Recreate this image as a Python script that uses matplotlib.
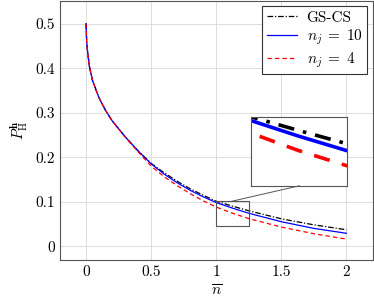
import matplotlib
matplotlib.use("Agg")
import matplotlib.pyplot as plt
from matplotlib.patches import Rectangle, ConnectionPatch

plt.rcParams['font.family'] = 'serif'
plt.rcParams['font.serif'] = ['cmr10', 'DejaVu Serif']
plt.rcParams['mathtext.fontset'] = 'cm'
plt.rcParams['axes.unicode_minus'] = False

# ---- data ----
n_bar = [0.0, 0.005, 0.01, 0.025, 0.05, 0.1, 0.15, 0.2, 0.3, 0.4, 0.5,
         0.6, 0.7, 0.8, 0.9, 1.0, 1.125, 1.25, 1.5, 1.75, 2.0]
gs_cs = [0.5, 0.458, 0.443, 0.405, 0.372, 0.333, 0.305, 0.282, 0.246, 0.214, 0.186,
         0.165, 0.146, 0.129, 0.1145, 0.101, 0.090, 0.0795, 0.0615, 0.048, 0.037]
nj10 = [0.5, 0.458, 0.443, 0.405, 0.372, 0.333, 0.305, 0.282, 0.246, 0.214, 0.185,
        0.162, 0.1425, 0.1255, 0.111, 0.098, 0.0855, 0.074, 0.055, 0.040, 0.029]
nj4 = [0.5, 0.458, 0.443, 0.405, 0.372, 0.333, 0.305, 0.282, 0.245, 0.212, 0.180,
       0.156, 0.136, 0.118, 0.102, 0.088, 0.074, 0.062, 0.043, 0.028, 0.016]
labels = ['GS-CS', r'$n_j\;=\;10$', r'$n_j\;=\;4$']
xticks = [0, 0.5, 1, 1.5, 2]
xtick_labels = ['0', '0.5', '1', '1.5', '2']
yticks = [0, 0.1, 0.2, 0.3, 0.4, 0.5]
ytick_labels = ['0', '0.1', '0.2', '0.3', '0.4', '0.5']
zoom_x = (1.0, 1.25)
zoom_y = (0.046, 0.101)

fig = plt.figure(figsize=(3.74, 3.03), dpi=100)
ax = fig.add_axes([0.1604, 0.1419, 0.8356, 0.855])

series = [(gs_cs, 'black', (0, (4.5, 1.5, 1, 1.5))),
          (nj10, 'blue', '-'),
          (nj4, 'red', (0, (3.5, 2.5)))]
for (y, c, ls), lab in zip(series, labels):
    ax.plot(n_bar, y, color=c, linestyle=ls, lw=0.9, label=lab)

ax.set_xlim(-0.2, 2.2)
ax.set_ylim(-0.031, 0.551)
ax.set_xticks(xticks)
ax.set_xticklabels(xtick_labels)
ax.set_yticks(yticks)
ax.set_yticklabels(ytick_labels)
ax.tick_params(length=0, labelsize=11)
ax.tick_params(axis='y', pad=3.5)
ax.tick_params(axis='x', pad=4)
ax.grid(True, color='#d8d8d8', lw=0.6)
ax.set_axisbelow(True)
for s in ax.spines.values():
    s.set_color('#555555')
    s.set_linewidth(0.8)
ax.set_xlabel(r'$\overline{n}$', fontsize=11, labelpad=3)
ax.set_ylabel(r'$P_{\mathrm{H}}^{\mathbf{h}}$', fontsize=11, labelpad=3)

leg = ax.legend(loc='upper right', fontsize=11, fancybox=False, framealpha=1,
                edgecolor='#333333', handlelength=2.0, borderaxespad=0.35,
                labelspacing=0.2, handletextpad=0.6, borderpad=0.3)
leg.get_frame().set_linewidth(0.8)

# zoom rectangle
ax.add_patch(Rectangle((zoom_x[0], zoom_y[0]), zoom_x[1] - zoom_x[0],
                       zoom_y[1] - zoom_y[0], fill=False,
                       edgecolor='#555555', lw=0.8, zorder=5))

# inset
axi = fig.add_axes([0.670, 0.387, 0.2567, 0.228])
inset_series = [(gs_cs, 'black', (0, (4.5, 2.5, 1, 2.5))),
                (nj10, 'blue', '-'),
                (nj4, 'red', (0, (4.5, 3.5)))]
for y, c, ls in inset_series:
    axi.plot(n_bar, y, color=c, linestyle=ls, lw=2.6)
axi.set_xlim(*zoom_x)
axi.set_ylim(*zoom_y)
axi.set_xticks([])
axi.set_yticks([])
for s in axi.spines.values():
    s.set_color('#555555')
    s.set_linewidth(0.8)

con = ConnectionPatch(xyA=(1.12, zoom_y[1]), coordsA=ax.transData,
                      xyB=(0.51, 0.0), coordsB=axi.transAxes,
                      color='#555555', lw=0.7)
fig.add_artist(con)

fig.savefig('out.png', dpi=100)
